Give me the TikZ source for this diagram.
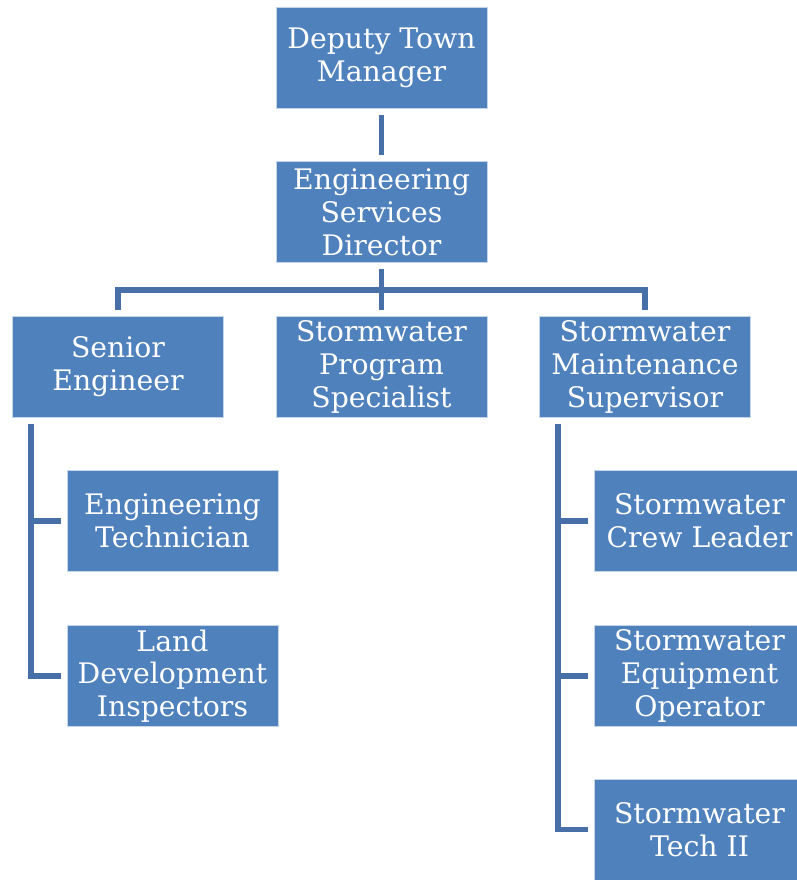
\documentclass[tikz,border=0pt]{standalone}
\usepackage{fontspec}
\setmainfont{DejaVu Serif}
\usepackage{xcolor}
\usepackage{tikz}
\definecolor{boxblue}{HTML}{4F81BD}
\definecolor{rimblue}{HTML}{C6D6EA}
\definecolor{lineblue}{HTML}{4770A8}
\tikzstyle{unit}=[draw=rimblue, line width=0.8pt, fill=boxblue, text=white, minimum width=211pt, minimum height=101pt, inner sep=0pt, align=center, font=\fontsize{28.3}{32.8}\selectfont]
\tikzstyle{link}=[draw=lineblue, line width=5.2pt]

\begin{document}
\begin{tikzpicture}[x=1pt, y=-1pt]
        \useasboundingbox (0,0) rectangle (797,880);
        \node[unit] (dtm) at (381.5, 57.5) {Deputy Town\\Manager};
        \node[unit] (esd) at (381.5, 212) {Engineering\\Services\\Director};
        \node[unit] (se) at (118, 367) {Senior\\Engineer};
        \node[unit] (sps) at (381.5, 367) {Stormwater\\Program\\Specialist};
        \node[unit] (sms) at (645, 367) {Stormwater\\Maintenance\\Supervisor};
        \node[unit] (et) at (172.5, 521) {Engineering\\Technician};
        \node[unit] (ldi) at (172.5, 676) {Land\\Development\\Inspectors};
        \node[unit] (scl) at (699.5, 521) {Stormwater\\Crew Leader};
        \node[unit] (seo) at (699.5, 676) {Stormwater\\Equipment\\Operator};
        \node[unit] (st2) at (699.5, 829.5) {Stormwater\\Tech II};
        \coordinate (bus) at (381.5, 290); \coordinate (lt) at (31, 418); \coordinate (rt) at (558, 418);
        \draw[link, shorten <=7pt, shorten >=6pt] (dtm) -- (esd);
        \draw[link, shorten <=6pt] (esd.south) -- (bus);
        \draw[link, shorten <=6pt, shorten >=6pt] (se.north) |- (bus) -| (sms.north);
        \draw[link, shorten >=6pt] (bus) -- (sps.north);
        \draw[link, shorten <=6pt, shorten >=6pt] (lt) |- (ldi.west);
        \draw[link, shorten >=6pt] (lt |- et.west) -- (et.west);
        \draw[link, shorten <=6pt, shorten >=6pt] (rt) |- (st2.west);
        \foreach \n in {scl,seo} { \draw[link, shorten >=6pt] (rt |- \n.west) -- (\n.west); }
    \end{tikzpicture}
\end{document}
